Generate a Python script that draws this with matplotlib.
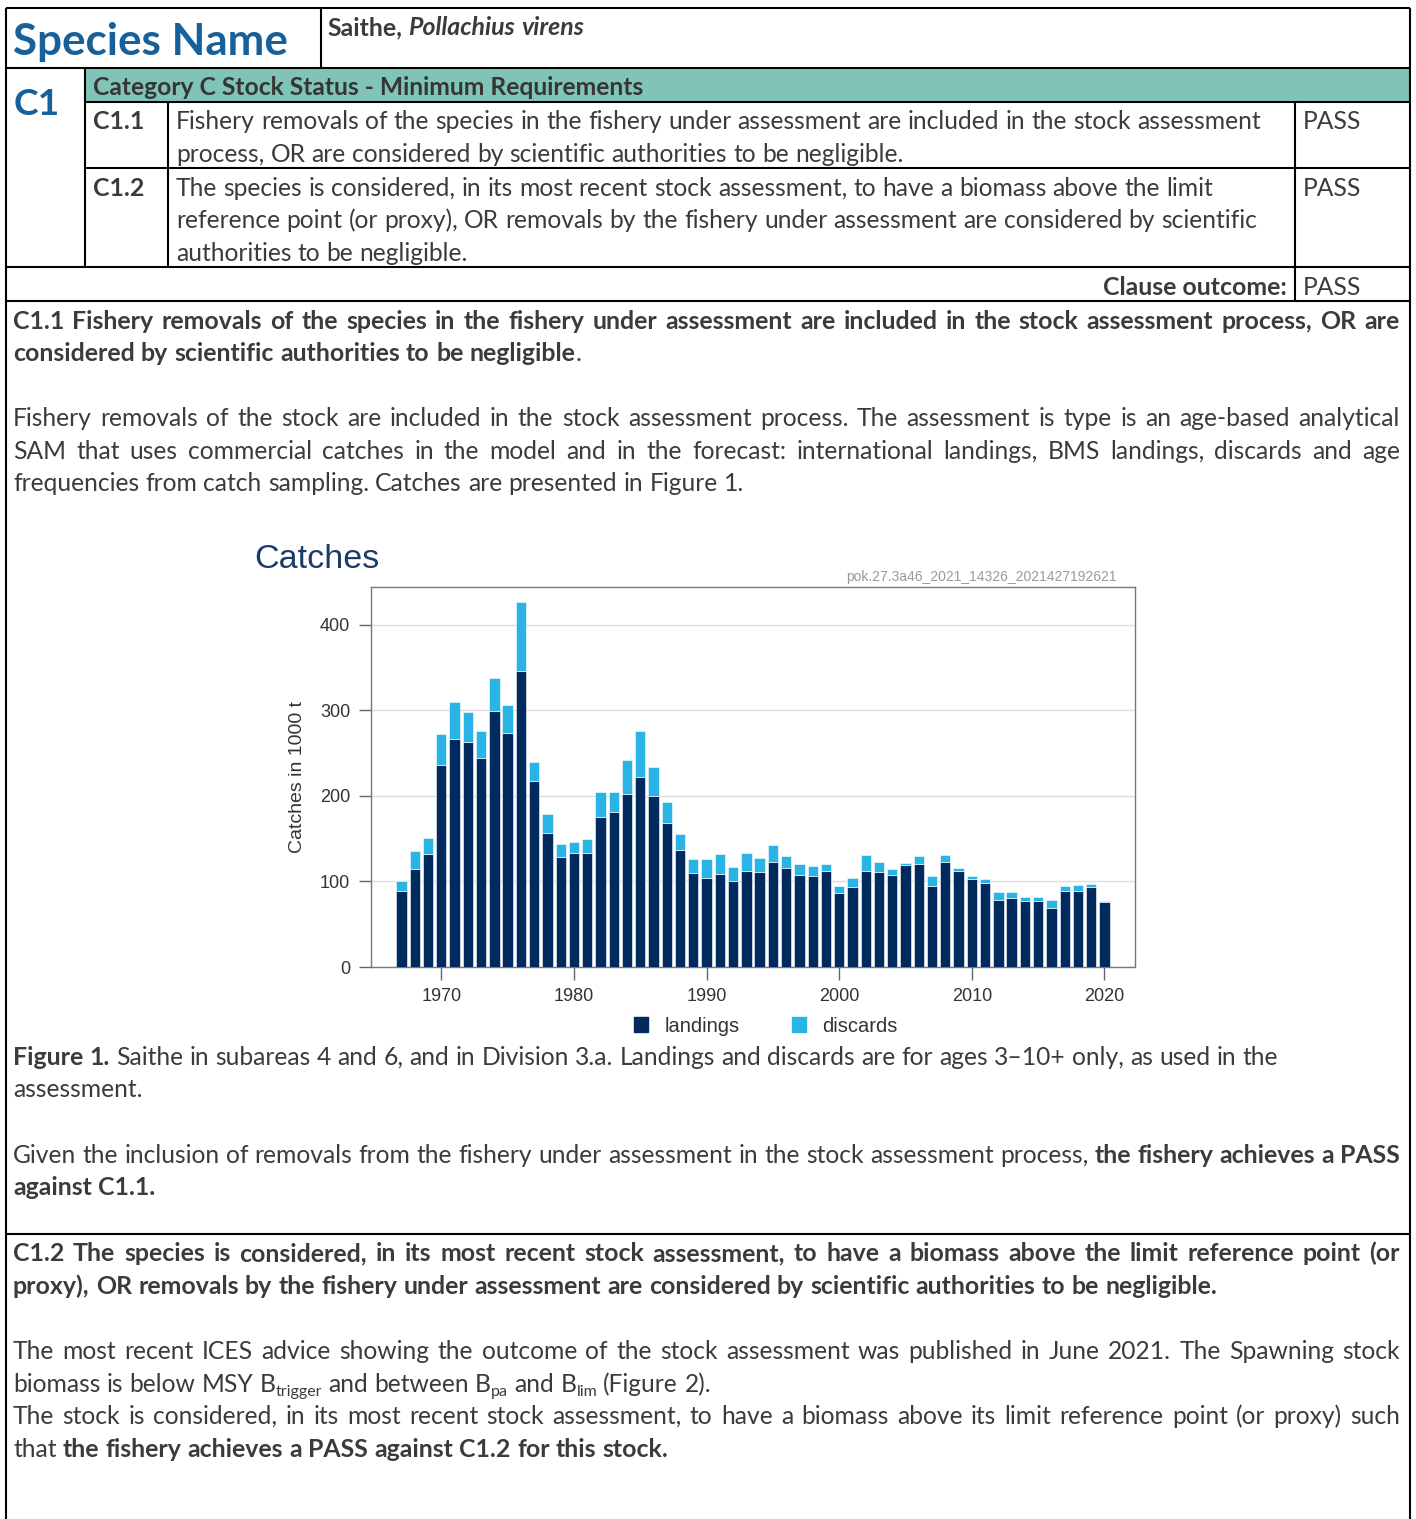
import matplotlib
matplotlib.use("Agg")
import matplotlib.pyplot as plt
from matplotlib.patches import Patch, Rectangle
from matplotlib import font_manager
import numpy as np

# ---- chart data (thousand tonnes) ----
years = np.arange(1967, 2021)
landings = np.array([
    88.6, 114.6, 131.9, 236.6, 266.5, 263.4, 244.0, 299.2, 273.2, 346.0,
    217.0, 156.3, 129.0, 132.7, 132.7, 174.8, 180.7, 202.4, 222.0, 199.6,
    168.1, 136.6, 109.8, 104.3, 108.7, 100.0, 112.6, 110.6, 122.8, 116.1,
    107.9, 106.7, 112.2, 86.6, 92.9, 112.2, 111.0, 107.9, 118.9, 120.9,
    94.9, 122.4, 112.6, 102.8, 98.4, 78.7, 80.7, 76.8, 76.8, 68.9,
    88.6, 88.6, 92.9, 75.6])
discards = np.array([
    12.4, 21.2, 18.5, 35.4, 43.7, 34.6, 32.0, 39.0, 32.7, 80.0,
    23.0, 22.0, 14.7, 13.3, 16.9, 29.5, 23.6, 39.3, 53.2, 34.3,
    25.2, 18.5, 16.2, 21.7, 23.2, 16.5, 20.5, 17.0, 19.3, 13.8,
    12.6, 11.4, 8.3, 7.9, 10.6, 18.5, 11.4, 6.3, 3.1, 9.0,
    11.4, 8.3, 3.1, 3.5, 4.0, 8.7, 6.7, 5.5, 5.5, 9.1,
    6.3, 7.1, 3.6, 1.2])
xticks = [1970, 1980, 1990, 2000, 2010, 2020]
yticks = [0, 100, 200, 300, 400]
series_names = ["landings", "discards"]

W, H = 1416, 1519
YOFF = 2  # small baseline nudge
fig = plt.figure(figsize=(W / 100, H / 100), dpi=100)
doc = fig.add_axes([0, 0, 1, 1])
doc.set_xlim(0, W)
doc.set_ylim(H, 0)
doc.axis("off")
renderer = fig.canvas.get_renderer()

have = {f.name for f in font_manager.fontManager.ttflist}
BODY = [f for f in ["Lato", "Open Sans", "Noto Sans", "DejaVu Sans"] if f in have][0]
CHART = [f for f in ["Liberation Sans", "DejaVu Sans"] if f in have][0]

TXT = "#3b3b3b"
BLUE = "#17609a"
TEAL = "#80c4b7"


def width_of(s, **kw):
    t = doc.text(0, 0, s, **kw)
    w = t.get_window_extent(renderer).width
    t.remove()
    return w


def fit(s, target, **kw):
    return 10 * target / width_of(s, fontsize=10, **kw)


SZ = fit("Fishery removals of the species in the fishery under assessment are "
         "included in the stock assessment", 1087, family=BODY)
SZB = fit("proxy), OR removals by the fishery under assessment are considered by "
          "scientific authorities to be negligible.", 1206, family=BODY, fontweight="bold")

STY = {
    "r": dict(family=BODY, fontsize=SZ, color=TXT),
    "b": dict(family=BODY, fontsize=SZB, color=TXT, fontweight="bold"),
    "bi": dict(family=BODY, fontsize=SZB, color=TXT, fontweight="bold", fontstyle="italic"),
    "sub": dict(family=BODY, fontsize=SZ * 0.65, color=TXT),
}
DY = {"sub": 4}
SPACE = width_of("a a", **STY["r"]) - width_of("aa", **STY["r"])


def put(x0, yb, segs, x1=None):
    words = []
    glue = False
    for text, st in segs:
        parts = text.split(" ")
        for i, p in enumerate(parts):
            if p:
                if i == 0 and glue and words:
                    words[-1].append((p, st))
                else:
                    words.append([(p, st)])
        glue = not text.endswith(" ")
    widths = [[width_of(p, **STY[st]) for p, st in w] for w in words]
    total = sum(sum(w) for w in widths)
    gap = SPACE
    if x1 is not None and len(words) > 1:
        gap = max((x1 - x0 - total) / (len(words) - 1), SPACE * 0.6)
    x = x0
    for w, ws in zip(words, widths):
        for (p, st), pw in zip(w, ws):
            doc.text(x, yb + YOFF + DY.get(st, 0), p, va="baseline", ha="left", **STY[st])
            x += pw
        x += gap


def hline(y, x0=6, x1=1410):
    doc.plot([x0, x1], [y, y], color="black", lw=1.5, solid_capstyle="butt")


def vline(x, y0, y1):
    doc.plot([x, x], [y0, y1], color="black", lw=1.5, solid_capstyle="butt")


# ---- table frame ----
doc.add_patch(Rectangle((85, 68), 1325, 34, color=TEAL, lw=0))
hline(8)
vline(6, 8, H)
vline(1410, 8, H)
vline(321, 8, 68)
hline(68)
hline(102, 85)
hline(168, 85)
vline(85, 68, 267)
vline(168, 102, 267)
vline(1295, 102, 301)
hline(267)
hline(301)
hline(1234)

# ---- header cells ----
hb = dict(family=BODY, fontweight="bold")
doc.text(13, 55, "Species Name", color=BLUE, va="baseline",
         fontsize=fit("Species Name", 276, **hb), **hb)
doc.text(14, 115, "C1", color=BLUE, va="baseline",
         fontsize=fit("C1", 46, **hb), **hb)
put(327, 33, [("Saithe, ", "b"), ("Pollachius virens", "bi")])
cat = "Category C Stock Status - Minimum Requirements"
doc.text(93, 95, cat, color="#353535", va="baseline", fontsize=fit(cat, 550, **hb), **hb)

put(93, 127, [("C1.1", "b")])
put(176, 127, [("Fishery removals of the species in the fishery under assessment are "
                "included in the stock assessment", "r")])
put(176, 160, [("process, OR are considered by scientific authorities to be negligible.", "r")])
put(1303, 127, [("PASS", "r")])

put(93, 194, [("C1.2", "b")])
put(176, 194, [("The species is considered, in its most recent stock assessment, to have a "
                "biomass above the limit", "r")])
put(176, 226, [("reference point (or proxy), OR removals by the fishery under assessment "
                "are considered by scientific", "r")])
put(176, 259, [("authorities to be negligible.", "r")])
put(1303, 194, [("PASS", "r")])

doc.text(1287, 293 + YOFF, "Clause outcome:", color=TXT, va="baseline", ha="right",
         fontsize=SZB, **hb)
put(1303, 293, [("PASS", "r")])

# ---- C1.1 section ----
put(13, 327, [("C1.1 Fishery removals of the species in the fishery under assessment are "
               "included in the stock assessment process, OR are", "b")], x1=1400)
put(13, 359, [("considered by scientific authorities to be negligible", "b"), (".", "r")])
put(13, 424, [("Fishery removals of the stock are included in the stock assessment process. "
               "The assessment is type is an age-based analytical", "r")], x1=1400)
put(13, 457, [("SAM that uses commercial catches in the model and in the forecast: "
               "international landings, BMS landings, discards and age", "r")], x1=1400)
put(13, 489, [("frequencies from catch sampling. Catches are presented in Figure 1.", "r")])

# ---- catch chart ----
ax = fig.add_axes([371 / W, 1 - 967 / H, (1135 - 371) / W, (967 - 587) / H])
ax.bar(years, landings, width=0.78, color="#012a5e", edgecolor="white", lw=0.4,
       label=series_names[0], zorder=3)
ax.bar(years, discards, width=0.78, bottom=landings, color="#2ab4e6",
       edgecolor="white", lw=0.4, label=series_names[1], zorder=3)
ax.set_xlim(1964.7, 2022.3)
ax.set_ylim(0, 444)
ax.set_xticks(xticks)
ax.set_yticks(yticks)
ax.grid(axis="y", color="#dedede", lw=1, zorder=0)
for s in ax.spines.values():
    s.set_color("#777777")
    s.set_linewidth(1)
ax.tick_params(colors="#666666", labelcolor="#333333", length=9, width=1,
               labelsize=13, pad=6)
for lab in ax.get_xticklabels() + ax.get_yticklabels():
    lab.set_family(CHART)
ax.set_ylabel("Catches in 1000 t", family=CHART, fontsize=14, color="#333333",
              labelpad=10)
doc.text(254, 568, "Catches", family=CHART, fontsize=24.5, color="#1b3c6b", va="baseline")
doc.text(1117, 581, "pok.27.3a46_2021_14326_2021427192621", family=CHART, fontsize=10,
         color="#9a9a9a", ha="right", va="baseline")
fig.legend(handles=[Patch(color="#012a5e", label=series_names[0]),
                    Patch(color="#2ab4e6", label=series_names[1])],
           loc="center", bbox_to_anchor=(766 / W, 1 - 1026 / H), ncol=2, frameon=False,
           prop={"family": CHART, "size": 14.5}, labelcolor="#333333",
           handlelength=0.7, handleheight=0.7, handletextpad=0.8, columnspacing=2.6)

# ---- caption and conclusion ----
put(13, 1063, [("Figure 1.", "b"), (" Saithe in subareas 4 and 6, and in Division 3.a. "
               "Landings and discards are for ages 3\u201310+ only, as used in the", "r")])
put(13, 1095, [("assessment.", "r")])
put(13, 1161, [("Given the inclusion of removals from the fishery under assessment in the "
                "stock assessment process, ", "r"), ("the fishery achieves a PASS", "b")],
    x1=1400)
put(13, 1193, [("against C1.1.", "b")])

# ---- C1.2 section ----
put(13, 1259, [("C1.2 The species is considered, in its most recent stock assessment, to "
                "have a biomass above the limit reference point (or", "b")], x1=1400)
put(13, 1292, [("proxy), OR removals by the fishery under assessment are considered by "
                "scientific authorities to be negligible.", "b")])
put(13, 1357, [("The most recent ICES advice showing the outcome of the stock assessment "
                "was published in June 2021. The Spawning stock", "r")], x1=1400)
put(13, 1390, [("biomass is below MSY B", "r"), ("trigger", "sub"), (" and between B", "r"),
               ("pa", "sub"), (" and B", "r"), ("lim", "sub"), (" (Figure 2).", "r")])
put(13, 1422, [("The stock is considered, in its most recent stock assessment, to have a "
                "biomass above its limit reference point (or proxy) such", "r")], x1=1400)
put(13, 1455, [("that ", "r"), ("the fishery achieves a PASS against C1.2 for this stock.", "b")])

fig.savefig("out.png", dpi=100, facecolor="white")
